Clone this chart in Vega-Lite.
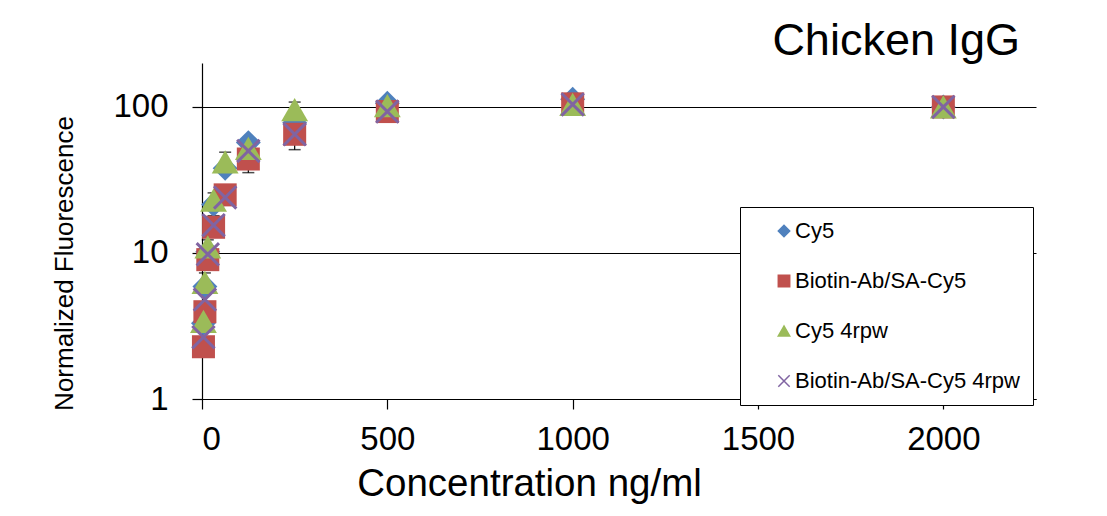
{
  "$schema": "https://vega.github.io/schema/vega-lite/v6.json",
  "width": 834,
  "height": 336,
  "autosize": {"type": "none"},
  "padding": {"left": 202, "top": 63, "right": 71, "bottom": 117},
  "background": "white",
  "title": {
    "text": "Chicken IgG",
    "anchor": "end",
    "frame": "group",
    "orient": "top",
    "font": "Liberation Sans",
    "fontSize": 45,
    "fontWeight": "normal",
    "color": "black",
    "baseline": "alphabetic",
    "offset": 7,
    "dx": -16,
    "dy": 44
  },
  "datasets": {
    "points": [
      {"series": "Cy5", "conc": 3.906, "value": 3.3},
      {"series": "Cy5", "conc": 7.8125, "value": 5.9},
      {"series": "Cy5", "conc": 15.625, "value": 10.2},
      {"series": "Cy5", "conc": 31.25, "value": 21.5},
      {"series": "Cy5", "conc": 62.5, "value": 38},
      {"series": "Cy5", "conc": 125, "value": 57},
      {"series": "Cy5", "conc": 250, "value": 78},
      {"series": "Cy5", "conc": 500, "value": 106},
      {"series": "Cy5", "conc": 1000, "value": 113},
      {"series": "Cy5", "conc": 2000, "value": 100},
      {"series": "Biotin-Ab/SA-Cy5", "conc": 3.906, "value": 2.28},
      {"series": "Biotin-Ab/SA-Cy5", "conc": 7.8125, "value": 3.96},
      {"series": "Biotin-Ab/SA-Cy5", "conc": 15.625, "value": 9.0},
      {"series": "Biotin-Ab/SA-Cy5", "conc": 31.25, "value": 15},
      {"series": "Biotin-Ab/SA-Cy5", "conc": 62.5, "value": 25},
      {"series": "Biotin-Ab/SA-Cy5", "conc": 125, "value": 44},
      {"series": "Biotin-Ab/SA-Cy5", "conc": 250, "value": 65},
      {"series": "Biotin-Ab/SA-Cy5", "conc": 500, "value": 93},
      {"series": "Biotin-Ab/SA-Cy5", "conc": 1000, "value": 105},
      {"series": "Biotin-Ab/SA-Cy5", "conc": 2000, "value": 100},
      {"series": "Cy5 4rpw", "conc": 3.906, "value": 3.4},
      {"series": "Cy5 4rpw", "conc": 7.8125, "value": 6.3},
      {"series": "Cy5 4rpw", "conc": 15.625, "value": 11},
      {"series": "Cy5 4rpw", "conc": 31.25, "value": 23},
      {"series": "Cy5 4rpw", "conc": 62.5, "value": 42},
      {"series": "Cy5 4rpw", "conc": 125, "value": 52},
      {"series": "Cy5 4rpw", "conc": 250, "value": 96},
      {"series": "Cy5 4rpw", "conc": 500, "value": 102},
      {"series": "Cy5 4rpw", "conc": 1000, "value": 104},
      {"series": "Cy5 4rpw", "conc": 2000, "value": 100},
      {"series": "Biotin-Ab/SA-Cy5 4rpw", "conc": 3.906, "value": 2.65},
      {"series": "Biotin-Ab/SA-Cy5 4rpw", "conc": 7.8125, "value": 4.8},
      {"series": "Biotin-Ab/SA-Cy5 4rpw", "conc": 15.625, "value": 9.8},
      {"series": "Biotin-Ab/SA-Cy5 4rpw", "conc": 31.25, "value": 15.5},
      {"series": "Biotin-Ab/SA-Cy5 4rpw", "conc": 62.5, "value": 24},
      {"series": "Biotin-Ab/SA-Cy5 4rpw", "conc": 125, "value": 50},
      {"series": "Biotin-Ab/SA-Cy5 4rpw", "conc": 250, "value": 65},
      {"series": "Biotin-Ab/SA-Cy5 4rpw", "conc": 500, "value": 93},
      {"series": "Biotin-Ab/SA-Cy5 4rpw", "conc": 1000, "value": 104},
      {"series": "Biotin-Ab/SA-Cy5 4rpw", "conc": 2000, "value": 100}
    ],
    "errors": [
      {"series": "Cy5 4rpw", "conc": 7.8125, "lo": 5.4, "hi": 7.3},
      {"series": "Cy5 4rpw", "conc": 15.625, "lo": 9.8, "hi": 12.3},
      {"series": "Cy5", "conc": 31.25, "lo": 18, "hi": 25.8},
      {"series": "Cy5 4rpw", "conc": 62.5, "lo": 35, "hi": 49},
      {"series": "Biotin-Ab/SA-Cy5", "conc": 125, "lo": 35.5, "hi": 54},
      {"series": "Cy5 4rpw", "conc": 250, "lo": 86, "hi": 108},
      {"series": "Biotin-Ab/SA-Cy5", "conc": 250, "lo": 51, "hi": 80}
    ]
  },
  "encoding": {
    "x": {
      "field": "conc",
      "type": "quantitative",
      "scale": {"domain": [0, 2250], "nice": false, "zero": false},
      "axis": {
        "title": "Concentration ng/ml",
        "values": [0, 500, 1000, 1500, 2000],
        "format": "d",
        "grid": false,
        "labelPadding": 14,
        "titleFontSize": 38.5,
        "titleX": 327,
        "titleY": 96,
        "titleAlign": "center",
        "titleBaseline": "alphabetic"
      }
    }
  },
  "layer": [
    {
      "data": {"name": "errors"},
      "mark": {"type": "rule", "color": "black", "strokeWidth": 1.2},
      "encoding": {
        "y": {"field": "lo", "type": "quantitative"},
        "y2": {"field": "hi"}
      }
    },
    {
      "data": {"name": "errors"},
      "mark": {"type": "tick", "color": "black", "orient": "horizontal", "size": 12, "thickness": 1.5},
      "encoding": {
        "y": {"field": "lo", "type": "quantitative"}
      }
    },
    {
      "data": {"name": "errors"},
      "mark": {"type": "tick", "color": "black", "orient": "horizontal", "size": 12, "thickness": 1.5},
      "encoding": {
        "y": {"field": "hi", "type": "quantitative"}
      }
    },
    {
      "data": {"name": "points"},
      "transform": [{"filter": "datum.series === 'Cy5'"}],
      "mark": {"type": "point", "filled": true, "opacity": 1, "size": 620, "strokeWidth": 0},
      "encoding": {
        "y": {
          "field": "value",
          "type": "quantitative",
          "scale": {"type": "log", "domain": [1, 200], "nice": false},
          "axis": {
            "title": "Normalized Fluorescence",
            "values": [1, 10, 100],
            "format": "d",
            "grid": true,
            "gridColor": "black",
            "gridOpacity": 1,
            "gridWidth": 1,
            "labelPadding": 24,
            "titleFontSize": 26,
            "titleAngle": -90,
            "titleX": -130,
            "titleY": 200,
            "titleAlign": "center",
            "titleBaseline": "alphabetic"
          }
        },
        "shape": {
          "field": "series",
          "type": "nominal",
          "scale": {
            "domain": ["Cy5", "Biotin-Ab/SA-Cy5", "Cy5 4rpw", "Biotin-Ab/SA-Cy5 4rpw"],
            "range": ["diamond", "square", "triangle-up", "M-1,-1L1,1M-1,1L1,-1"]
          },
          "legend": {
            "orient": "none",
            "legendX": 538,
            "legendY": 144,
            "title": null,
            "direction": "vertical",
            "strokeColor": "black",
            "fillColor": "white",
            "padding": 13,
            "rowPadding": 28,
            "symbolOffset": 20,
            "labelOffset": 0,
            "labelLimit": 500,
            "labelFontSize": 22,
            "labelFont": "Liberation Sans",
            "labelColor": "black",
            "symbolSize": 130,
            "symbolStrokeWidth": 1.5,
            "labelExpr": "datum.label + '\u00a0\u00a0\u00a0\u00a0\u00a0\u00a0'"
          }
        },
        "fill": {
          "field": "series",
          "type": "nominal",
          "scale": {
            "domain": ["Cy5", "Biotin-Ab/SA-Cy5", "Cy5 4rpw", "Biotin-Ab/SA-Cy5 4rpw"],
            "range": ["#4F81BD", "#C0504D", "#9BBB59", "#8064A2"]
          }
        },
        "stroke": {
          "field": "series",
          "type": "nominal",
          "scale": {
            "domain": ["Cy5", "Biotin-Ab/SA-Cy5", "Cy5 4rpw", "Biotin-Ab/SA-Cy5 4rpw"],
            "range": ["#4F81BD", "#C0504D", "#9BBB59", "#8064A2"]
          }
        }
      }
    },
    {
      "data": {"name": "points"},
      "transform": [{"filter": "datum.series === 'Biotin-Ab/SA-Cy5'"}],
      "mark": {"type": "point", "filled": true, "opacity": 1, "size": 530, "strokeWidth": 0},
      "encoding": {
        "y": {"field": "value", "type": "quantitative"},
        "shape": {"field": "series", "type": "nominal"},
        "fill": {"field": "series", "type": "nominal"},
        "stroke": {"field": "series", "type": "nominal"}
      }
    },
    {
      "data": {"name": "points"},
      "transform": [{"filter": "datum.series === 'Cy5 4rpw'"}],
      "mark": {"type": "point", "filled": true, "opacity": 1, "size": 720, "strokeWidth": 0},
      "encoding": {
        "y": {"field": "value", "type": "quantitative"},
        "shape": {"field": "series", "type": "nominal"},
        "fill": {"field": "series", "type": "nominal"},
        "stroke": {"field": "series", "type": "nominal"}
      }
    },
    {
      "data": {"name": "points"},
      "transform": [{"filter": "datum.series === 'Biotin-Ab/SA-Cy5 4rpw'"}],
      "mark": {"type": "point", "filled": true, "opacity": 1, "size": 500, "strokeWidth": 3},
      "encoding": {
        "y": {"field": "value", "type": "quantitative"},
        "shape": {"field": "series", "type": "nominal"},
        "fill": {"field": "series", "type": "nominal"},
        "stroke": {"field": "series", "type": "nominal"}
      }
    }
  ],
  "config": {
    "font": "Liberation Sans",
    "view": {"stroke": null},
    "axis": {
      "domainColor": "black",
      "domainWidth": 1.2,
      "tickColor": "black",
      "tickSize": 10,
      "tickWidth": 1.2,
      "labelColor": "black",
      "labelFont": "Liberation Sans",
      "labelFontSize": 33,
      "titleColor": "black",
      "titleFont": "Liberation Sans",
      "titleFontWeight": "normal"
    }
  }
}
